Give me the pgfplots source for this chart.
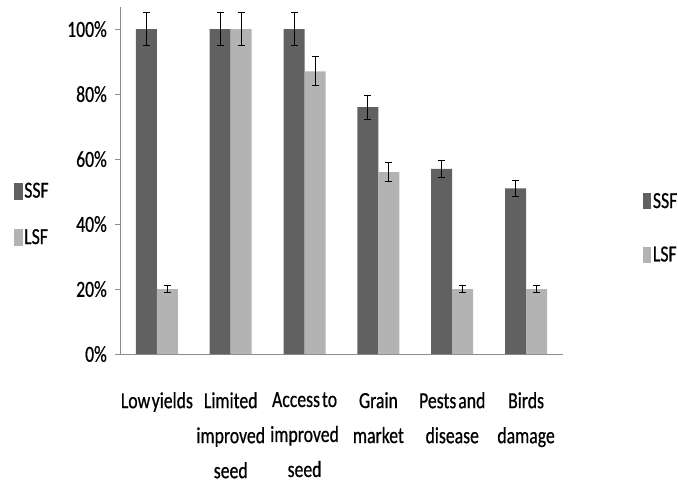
\documentclass[border=0pt]{standalone}
\usepackage{pgfplots}
\pgfplotsset{compat=1.18}
\usepackage{fontspec}
\setmainfont{Carlito}[FakeStretch=0.77, FakeBold=0.6]
\definecolor{ssf}{HTML}{616161}
\definecolor{lsf}{HTML}{B3B3B3}
\definecolor{axgray}{HTML}{8C8C8C}
\begin{document}
\begin{tikzpicture}
\path[use as bounding box] (-120pt,-131pt) rectangle (558pt,354pt);
\begin{axis}[
  at={(0pt,0pt)}, anchor=south west,
  scale only axis, width=443pt, height=347pt,
  xmin=-0.5, xmax=5.5, ymin=0, ymax=106.8,
  axis lines=left, axis line style={-, axgray, line width=0.8pt},
  ybar=0pt, bar width=21pt,
  xtick={0,...,5},
  xticklabels={Low\hspace{1.5pt}yields,Limited\\improved\\seed,Access\hspace{2pt}to\\improved\\seed,Grain\\market,Pests\hspace{2pt}and\\disease,Birds\\damage},
  xtick style={draw=none},
  minor xtick={-0.5,0.5,...,5.5},
  minor tick length=8pt, major tick length=5pt,
  tick align=outside,
  every tick/.style={axgray, line width=0.8pt},
  ytick={0,20,...,100},
  yticklabel={\pgfmathprintnumber{\tick}\%},
  /pgf/number format/assume math mode=true,
  tick label style={font=\fontsize{23}{35}\selectfont, text=black},
  xticklabel style={align=center, inner sep=0pt, yshift=-33pt},
  yticklabel style={inner sep=0pt, xshift=-8pt},
  legend style={at={(1.18,0.47)}, anchor=north west, draw=none, fill=none,
    font=\fontsize{23}{28}\selectfont, row sep=33pt, inner sep=0pt,
    legend cell align=left},
  error bars/y dir=both, error bars/y explicit,
  error bars/error bar style={black, line width=1pt},
  error bars/error mark options={rotate=90, mark size=3.5pt, black, line width=1pt},
]
\addplot[fill=ssf, draw=none,
  legend image code/.code={\fill[ssf] (0pt,-8pt) rectangle (8pt,8pt);}]
  coordinates {(0,100) +- (0,5) (1,100) +- (0,5) (2,100) +- (0,5) (3,76) +- (0,3.7) (4,57) +- (0,2.7) (5,51) +- (0,2.5)};
\addplot[fill=lsf, draw=none,
  legend image code/.code={\fill[lsf] (0pt,-8pt) rectangle (8pt,8pt);}]
  coordinates {(0,20) +- (0,1.1) (1,100) +- (0,5) (2,87) +- (0,4.5) (3,56) +- (0,3) (4,20) +- (0,1.1) (5,20) +- (0,1.1)};
\legend{SSF,LSF}
\end{axis}
\begin{axis}[
  at={(0pt,0pt)}, anchor=south west,
  scale only axis, width=443pt, height=347pt,
  xmin=0, xmax=1, ymin=0, ymax=1, hide axis,
  legend style={at={(-0.24,0.50)}, anchor=north west, draw=none, fill=none,
    font=\fontsize{23}{28}\selectfont, row sep=26pt, inner sep=0pt,
    legend cell align=left},
]
\addlegendimage{legend image code/.code={\fill[ssf] (0pt,-8pt) rectangle (8pt,8pt);}}
\addlegendimage{legend image code/.code={\fill[lsf] (0pt,-8pt) rectangle (8pt,8pt);}}
\legend{SSF,LSF}
\end{axis}
\end{tikzpicture}
\end{document}
